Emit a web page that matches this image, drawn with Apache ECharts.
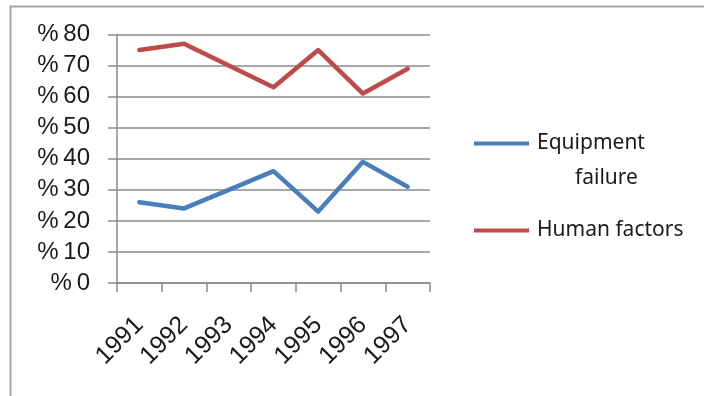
<!DOCTYPE html>
<html>
<head>
<meta charset="utf-8">
<script src="https://cdn.jsdelivr.net/npm/echarts@6/dist/echarts.min.js"></script>
<style>
  html, body { margin: 0; padding: 0; background: #ffffff; }
  #chart { width: 704px; height: 396px; }
</style>
</head>
<body>
<div id="chart"></div>
<script>
// Years on the category axis
var years = ['1991', '1992', '1993', '1994', '1995', '1996', '1997'];
// Share of incidents per cause, in percent
var equipmentFailure = [26, 24, 30, 36, 23, 39, 31];
var humanFactors = [75, 77, 70, 63, 75, 61, 69];
// Value axis ticks
var yTicks = [0, 10, 20, 30, 40, 50, 60, 70, 80];

var seriesNames = ['Equipment failure', 'Human factors'];
var blue = '#4a7ebb';
var red = '#be4b48';
var gridGray = '#8a8a8a';
var textColor = '#1a1a1a';

var chart = echarts.init(document.getElementById('chart'), null, { renderer: 'canvas' });

var legendFont = { fontFamily: 'Noto Sans', fontSize: 21, lineHeight: 35, color: textColor };

chart.setOption({
  backgroundColor: '#ffffff',
  animation: false,
  graphic: [{
    type: 'polyline',
    shape: { points: [[10.5, 396], [10.5, 6.5], [704, 6.5]] },
    style: { stroke: '#a6a6a6', lineWidth: 2, fill: null },
    silent: true
  }],
  grid: { left: 117, right: 274, top: 34.5, bottom: 113 },
  legend: {
    orient: 'vertical',
    left: 469,
    top: 93,
    itemWidth: 55,
    itemHeight: 4,
    itemGap: 31,
    icon: 'rect',
    data: seriesNames,
    formatter: function (name) {
      if (name === 'Equipment failure') {
        return '{s| }\n{a|Equipment}\n{b|failure}';
      }
      return '{h|' + name + '}';
    },
    textStyle: {
      fontFamily: 'Noto Sans',
      fontSize: 21,
      color: textColor,
      padding: [0, 0, 0, 3],
      rich: {
        s: legendFont,
        a: legendFont,
        b: Object.assign({ padding: [0, 0, 0, 38] }, legendFont),
        h: legendFont
      }
    }
  },
  xAxis: {
    type: 'category',
    data: years,
    boundaryGap: true,
    axisLine: { show: true, lineStyle: { color: gridGray, width: 1.5 } },
    axisTick: { show: true, length: 9, lineStyle: { color: gridGray, width: 1.5 } },
    axisLabel: {
      rotate: 45,
      margin: 38,
      interval: 0,
      fontFamily: 'Liberation Sans',
      fontSize: 25,
      color: textColor
    },
    splitLine: { show: false }
  },
  yAxis: {
    type: 'value',
    min: yTicks[0],
    max: yTicks[yTicks.length - 1],
    interval: yTicks[1] - yTicks[0],
    axisLine: { show: true, lineStyle: { color: gridGray, width: 1.5 } },
    axisTick: { show: true, length: 9, lineStyle: { color: gridGray, width: 1.5 } },
    axisLabel: {
      margin: 27,
      fontFamily: 'Liberation Sans',
      fontSize: 24,
      color: textColor,
      formatter: function (v) { return '%\u2009' + v; }
    },
    splitLine: { show: true, lineStyle: { color: gridGray, width: 1.5 } }
  },
  series: [
    {
      name: seriesNames[0],
      type: 'line',
      data: equipmentFailure,
      showSymbol: false,
      symbol: 'none',
      color: blue,
      lineStyle: { color: blue, width: 4.5, cap: 'round', join: 'round' }
    },
    {
      name: seriesNames[1],
      type: 'line',
      data: humanFactors,
      showSymbol: false,
      symbol: 'none',
      color: red,
      lineStyle: { color: red, width: 4.5, cap: 'round', join: 'round' }
    }
  ]
});
</script>
</body>
</html>
